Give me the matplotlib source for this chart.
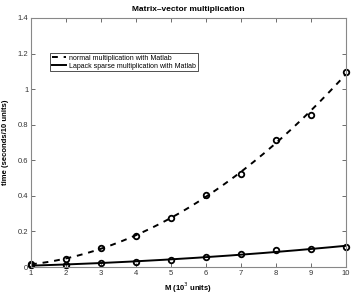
import numpy as np
import matplotlib
matplotlib.use("Agg")
import matplotlib.pyplot as plt

plt.rcParams['font.family'] = ['Liberation Sans', 'DejaVu Sans']

M = [1, 2, 3, 4, 5, 6, 7, 8, 9, 10]
normal = [0.015, 0.045, 0.108, 0.174, 0.277, 0.403, 0.523, 0.714, 0.854, 1.094]
lapack = [0.012, 0.012, 0.022, 0.028, 0.039, 0.056, 0.071, 0.094, 0.101, 0.114]
xticks = [1, 2, 3, 4, 5, 6, 7, 8, 9, 10]
yticks = [0, 0.2, 0.4, 0.6, 0.8, 1, 1.2, 1.4]

fig = plt.figure(figsize=(3.54, 2.94), dpi=100)
ax = fig.add_axes([0.0876, 0.0918, 0.889, 0.847])

xs = np.linspace(1, 10, 200)
pn = np.polyfit(M, normal, 2)
pl = np.polyfit(M, lapack, 2)
ax.plot(xs, np.polyval(pn, xs), 'k--', lw=1.4, dashes=(3, 3),
        label='normal multiplication with Matlab')
ax.plot(xs, np.polyval(pl, xs), 'k-', lw=1.4,
        label='Lapack sparse multiplication with Matlab')
ax.plot(M, normal, 'o', mfc='none', mec='black', ms=4, mew=1.3, clip_on=False)
ax.plot(M, lapack, 'o', mfc='none', mec='black', ms=4, mew=1.3, clip_on=False)

ax.set_xlim(1, 10)
ax.set_ylim(0, 1.4)
ax.set_xticks(xticks)
ax.set_xticklabels([str(v) for v in xticks])
ax.set_yticks(yticks)
ax.set_yticklabels(['0', '0.2', '0.4', '0.6', '0.8', '1', '1.2', '1.4'])
ax.tick_params(direction='in', top=True, right=True, labelsize=5.5,
               length=3, width=0.6, colors='#555555', labelcolor='#333333', pad=2)
for s in ax.spines.values():
    s.set_color('#888888')
    s.set_linewidth(0.8)

ax.set_title('Matrix\u2013vector multiplication', fontsize=6, fontweight='bold', pad=5)
ax.set_xlabel('M (10$^3$ units)', fontsize=5.5, fontweight='bold', labelpad=3)
ax.set_ylabel('time (seconds/10 units)', fontsize=5.5, fontweight='bold', labelpad=6)

leg = ax.legend(loc='upper left', bbox_to_anchor=(0.06, 0.86), fontsize=5,
                frameon=True, fancybox=False, edgecolor='black', handlelength=2.0,
                handletextpad=0.5, borderpad=0.25, labelspacing=0.15, borderaxespad=0)
leg.get_frame().set_linewidth(0.6)

fig.savefig('out.png', dpi=100)
